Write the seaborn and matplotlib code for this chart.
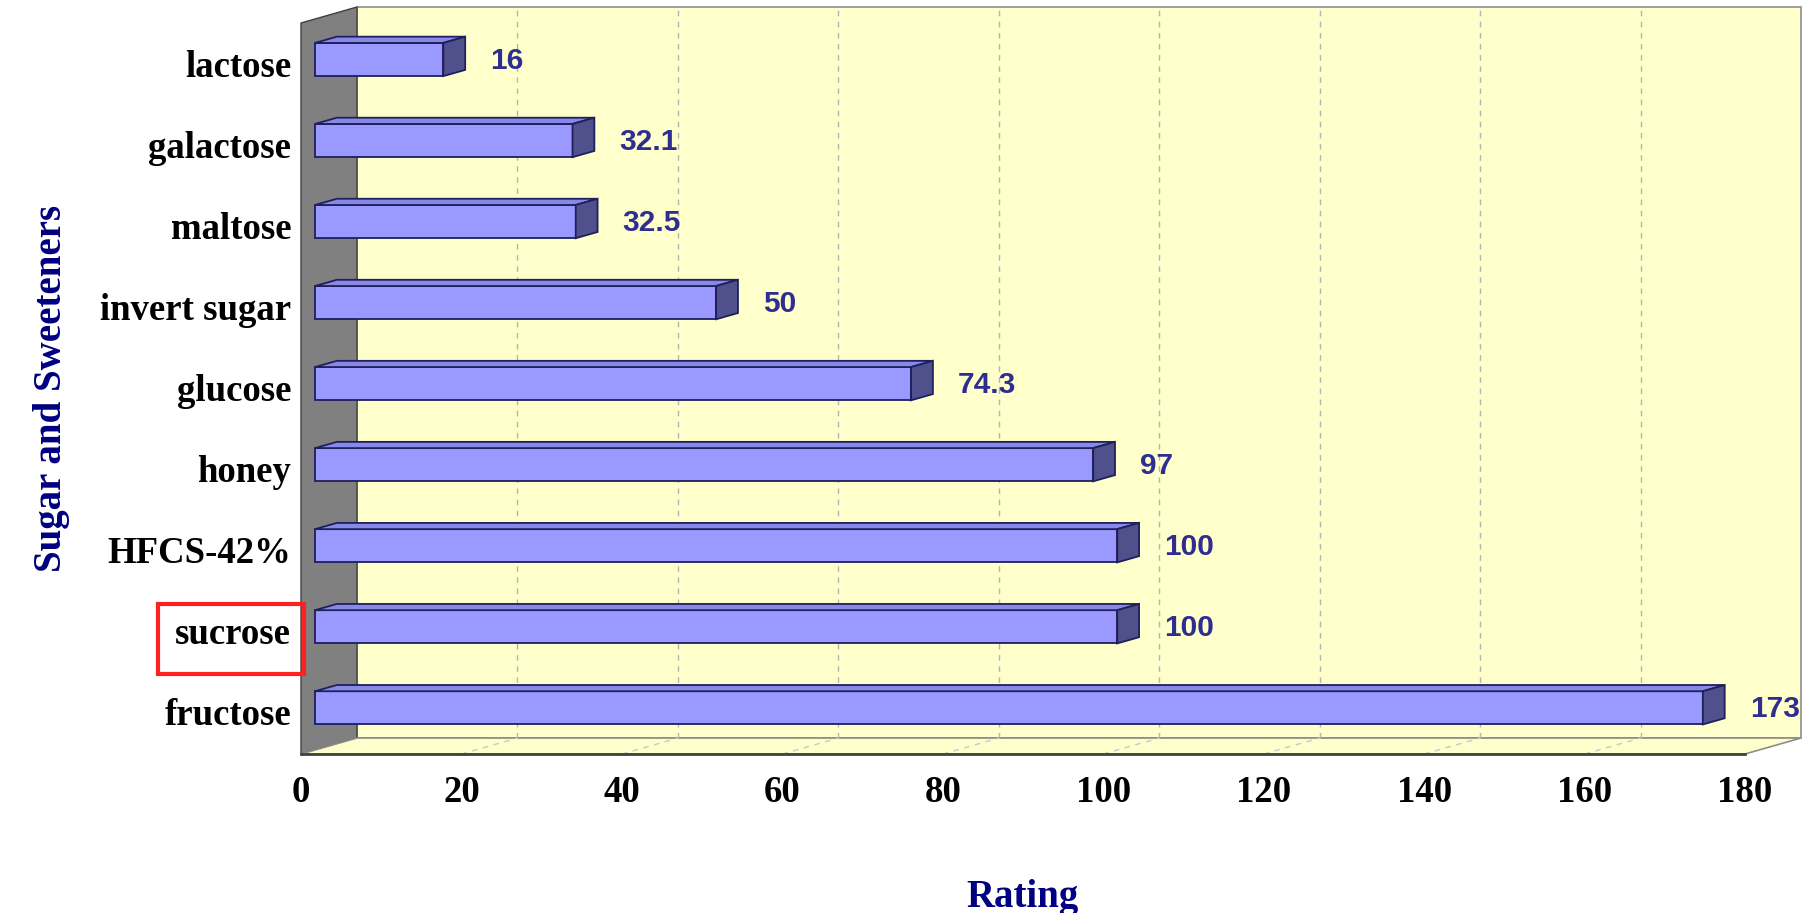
import pandas as pd
import seaborn as sns
import matplotlib.pyplot as plt
from matplotlib.patches import Polygon, Rectangle
from matplotlib.transforms import Affine2D, IdentityTransform

# данные с картинки
sugars = ["lactose", "galactose", "maltose", "invert sugar", "glucose",
          "honey", "HFCS-42%", "sucrose", "fructose"]
ratings = [16, 32.1, 32.5, 50, 74.3, 97, 100, 100, 173]
value_labels = ["16", "32.1", "32.5", "50", "74.3", "97", "100", "100", "173"]
x_ticks = [0, 20, 40, 60, 80, 100, 120, 140, 160, 180]
highlight = "sucrose"

df = pd.DataFrame({"sugar": sugars, "rating": ratings})

sns.set_style("white")
plt.rcParams["font.family"] = ["Liberation Serif", "DejaVu Serif"]

W, H = 1814, 913
fig = plt.figure(figsize=(W / 100, H / 100), dpi=100)
ax = fig.add_axes([301 / W, (H - 754) / H, 1444 / W, 731 / H])
ax.set_facecolor("none")

sns.barplot(data=df, x="rating", y="sugar", orient="h", order=sugars,
            color="#9999ff", saturation=1, width=0.41,
            edgecolor="#1f1f5c", linewidth=1.3, ax=ax, zorder=4)

ax.set_xlim(0, 180)
ax.set_ylim(8.52, -0.50)

# "глубина" 3d-коробки в пикселях
DX, DY = 56, 16
BAR_D0, BAR_D1 = 0.25, 0.64


def pt(x, y, d=0.0):
    X, Y = ax.transData.transform((x, y))
    return (X + DX * d, Y + DY * d)


def poly(points, **kw):
    p = Polygon(points, closed=True, transform=IdentityTransform(),
                clip_on=False, **kw)
    ax.add_patch(p)
    return p


ymin, ymax = ax.get_ylim()  # 8.52 (низ), -0.5 (верх)

# задняя стенка, левая стенка, пол
poly([pt(0, ymin, 1), pt(180, ymin, 1), pt(180, ymax, 1), pt(0, ymax, 1)],
     facecolor="#ffffcc", edgecolor="#8c8c8c", linewidth=1.2, zorder=0)
poly([pt(0, ymin, 0), pt(0, ymin, 1), pt(0, ymax, 1), pt(0, ymax, 0)],
     facecolor="#808080", edgecolor="#404040", linewidth=1.0, zorder=1)
poly([pt(0, ymin, 0), pt(180, ymin, 0), pt(180, ymin, 1), pt(0, ymin, 1)],
     facecolor="#ffffcc", edgecolor="#8c8c8c", linewidth=1.2, zorder=1)

# сетка на задней стенке и на полу
for t in x_ticks[1:-1]:
    a, b = pt(t, ymin, 1), pt(t, ymax, 1)
    ax.plot([a[0], b[0]], [a[1], b[1]], transform=IdentityTransform(),
            color="#b4b4b4", linestyle=(0, (4, 4)), linewidth=1.0,
            clip_on=False, zorder=1)
    a, b = pt(t, ymin, 0), pt(t, ymin, 1)
    ax.plot([a[0], b[0]], [a[1], b[1]], transform=IdentityTransform(),
            color="#c8c8c8", linestyle=(0, (4, 4)), linewidth=1.0,
            clip_on=False, zorder=2)

# бары: сдвиг вглубь + верхняя и боковая грани
shift = Affine2D().translate(DX * BAR_D0, DY * BAR_D0)
ddx, ddy = DX * (BAR_D1 - BAR_D0), DY * (BAR_D1 - BAR_D0)
for bar in list(ax.patches):
    if not isinstance(bar, Rectangle) or bar.get_width() <= 0:
        continue
    x0, w = bar.get_x(), bar.get_width()
    y0, h = bar.get_y(), bar.get_height()
    xa, ya = pt(x0, y0 + h, BAR_D0)   # низ
    xb, yb = pt(x0 + w, y0, BAR_D0)   # верх справа
    bar.set_transform(ax.transData + shift)
    bar.set_clip_on(False)
    poly([(xa, yb), (xb, yb), (xb + ddx, yb + ddy), (xa + ddx, yb + ddy)],
         facecolor="#8888e8", edgecolor="#1f1f5c", linewidth=1.3, zorder=4)
    poly([(xb, ya), (xb + ddx, ya + ddy), (xb + ddx, yb + ddy), (xb, yb)],
         facecolor="#50508c", edgecolor="#1f1f5c", linewidth=1.3, zorder=4)

# подписи значений
for i, (v, lab) in enumerate(zip(ratings, value_labels)):
    X, _ = pt(v, i, BAR_D1)
    _, Y = pt(v, i, BAR_D0)
    ax.text(X + 25, Y - 1, lab, transform=IdentityTransform(),
            ha="left", va="center", fontsize=21.5, fontweight="bold",
            family=["Liberation Sans", "DejaVu Sans"], color="#2e2e90",
            zorder=5)

# оси
for s in ["left", "top", "right"]:
    ax.spines[s].set_visible(False)
ax.spines["bottom"].set_color("#404040")
ax.spines["bottom"].set_linewidth(2)
ax.spines["bottom"].set_zorder(3)
ax.set_xticks(x_ticks)
ax.tick_params(axis="x", direction="in", length=11, width=1.2,
               color="#404040", pad=15, labelsize=26.5)
ax.tick_params(axis="y", length=0, pad=7, labelsize=26.5)
for lab in ax.get_xticklabels() + ax.get_yticklabels():
    lab.set_fontweight("bold")
    lab.set_color("black")

ax.set_xlabel("Rating", fontsize=28, fontweight="bold", color="#000080",
              labelpad=50)
ax.set_ylabel("Sugar and Sweeteners", fontsize=28, fontweight="bold",
              color="#000080", labelpad=22)

# красная рамка вокруг sucrose
fig.canvas.draw()
for lab in ax.get_yticklabels():
    if lab.get_text() == highlight:
        bb = lab.get_window_extent()
        cy = (bb.y0 + bb.y1) / 2 - 4
        fig.patches.append(Rectangle((bb.x0 - 17, cy - 35), bb.width + 30, 70,
                                     transform=IdentityTransform(),
                                     fill=False, edgecolor="#ff2020",
                                     linewidth=3, zorder=10))

fig.savefig("out.png", dpi=100)
